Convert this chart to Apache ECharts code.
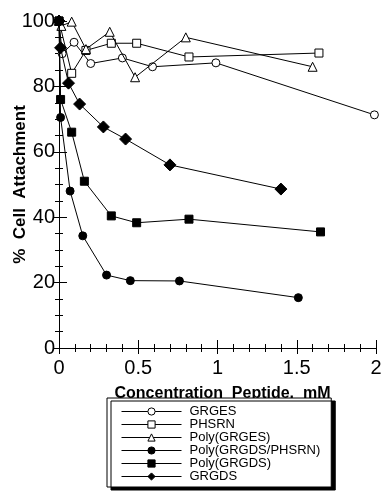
<!DOCTYPE html>
<html>
<head>
<meta charset="utf-8">
<script src="https://cdn.jsdelivr.net/npm/echarts@6/dist/echarts.min.js"></script>
<style>
html,body{margin:0;padding:0;background:#fff;}
#chart{width:383px;height:491px;}
</style>
</head>
<body>
<div id="chart"></div>
<script>
// Data (x: concentration mM, y: % cell attachment)
const seriesNames = ["GRGES", "PHSRN", "Poly(GRGES)", "Poly(GRGDS/PHSRN)", "Poly(GRGDS)", "GRGDS"];
const grges = [[0, 100], [0.02, 90], [0.095, 93.5], [0.2, 87], [0.4, 88.7], [0.59, 86], [0.99, 87.2], [1.99, 71.3]];
const phsrn = [[0, 100], [0.08, 84], [0.17, 91], [0.33, 93.2], [0.49, 93.2], [0.82, 89], [1.64, 90.2]];
const polyGrges = [[0, 100], [0.015, 98.5], [0.08, 99.8], [0.17, 91.4], [0.32, 96.7], [0.48, 82.8], [0.8, 95], [1.6, 86]];
const polyGrgdsPhsrn = [[0, 100], [0.01, 70.5], [0.07, 48], [0.15, 34.3], [0.3, 22.3], [0.45, 20.6], [0.76, 20.5], [1.51, 15.4]];
const polyGrgds = [[0, 100], [0.01, 76], [0.08, 66], [0.16, 51], [0.33, 40.4], [0.49, 38.3], [0.82, 39.4], [1.65, 35.5]];
const grgds = [[0, 100], [0.01, 91.8], [0.06, 81], [0.13, 74.6], [0.28, 67.6], [0.42, 63.9], [0.70, 56], [1.40, 48.6]];
const xTicks = [0, 0.5, 1, 1.5, 2];
const yTicks = [0, 20, 40, 60, 80, 100];

const seriesData = [grges, phsrn, polyGrges, polyGrgdsPhsrn, polyGrgds, grgds];
const symbols = ['circle', 'rect', 'triangle', 'circle', 'rect', 'diamond'];
const symbolSizes = [8, 8, 9, 8, 8, 12];
const filled = [false, false, false, true, true, true];

const chart = echarts.init(document.getElementById('chart'), null, {renderer: 'canvas'});
const fontMain = '"Liberation Sans", Arial, Helvetica, sans-serif';

const axisCommon = {
  min: 0,
  axisLine: {show: true, lineStyle: {color: '#000', width: 1}},
  axisTick: {show: true, inside: true, length: 8, lineStyle: {color: '#000', width: 1}},
  minorTick: {show: true, length: 4, lineStyle: {color: '#000', width: 1}},
  splitLine: {show: false}
};

const option = {
  backgroundColor: '#fff',
  animation: false,
  grid: {left: 59, right: 7, top: 21, bottom: 143, containLabel: false, outerBoundsMode: 'none'},
  xAxis: [
    Object.assign({}, axisCommon, {
      type: 'value', max: 2, interval: 0.5, position: 'bottom',
      minorTick: Object.assign({}, axisCommon.minorTick, {splitNumber: 5}),
      axisLabel: {color: '#000', fontFamily: fontMain, fontSize: 20, margin: 10,
        formatter: v => xTicks.includes(v) ? String(v) : ''},
      name: 'Concentration  Peptide,  mM',
      nameLocation: 'middle', nameGap: 38, nameMoveOverlap: false,
      nameTextStyle: {color: '#000', fontFamily: fontMain, fontWeight: 'bold', fontSize: 16, padding: [0, 0, 0, 10]}
    }),
    Object.assign({}, axisCommon, {
      type: 'value', max: 2, interval: 0.5, position: 'top',
      axisTick: Object.assign({}, axisCommon.axisTick, {length: 6}),
      minorTick: Object.assign({}, axisCommon.minorTick, {splitNumber: 5}),
      axisLabel: {show: false}
    })
  ],
  yAxis: [
    Object.assign({}, axisCommon, {
      type: 'value', max: 100, interval: 20, position: 'left',
      minorTick: Object.assign({}, axisCommon.minorTick, {splitNumber: 4}),
      axisLabel: {color: '#000', fontFamily: fontMain, fontSize: 20, margin: 4,
        formatter: v => yTicks.includes(v) ? String(v) : ''},
      name: '%  Cell  Attachment',
      nameLocation: 'middle', nameGap: 30, nameMoveOverlap: false,
      nameTextStyle: {color: '#000', fontFamily: fontMain, fontWeight: 'bold', fontSize: 17}
    }),
    Object.assign({}, axisCommon, {
      type: 'value', max: 100, interval: 20, position: 'right',
      axisTick: Object.assign({}, axisCommon.axisTick, {length: 5}),
      minorTick: Object.assign({}, axisCommon.minorTick, {splitNumber: 4}),
      axisLabel: {show: false}
    })
  ],
  legend: {
    orient: 'horizontal',
    left: 107, top: 398, width: 209,
    padding: [7, 11, 4, 14],
    itemGap: 0,
    itemWidth: 60,
    itemHeight: 9,
    backgroundColor: '#fff',
    borderColor: '#000',
    borderWidth: 1,
    borderRadius: 0,
    shadowColor: '#000',
    shadowBlur: 0,
    shadowOffsetX: 4,
    shadowOffsetY: 3,
    itemStyle: {borderWidth: 1},
    lineStyle: {width: 1},
    data: seriesNames,
    textStyle: {color: '#000', fontFamily: fontMain, fontSize: 13, lineHeight: 11.5, padding: [0, 0, 0, 3]}
  },
  series: seriesNames.map((name, i) => ({
    name: name,
    type: 'line',
    data: seriesData[i],
    symbol: symbols[i],
    symbolSize: symbolSizes[i],
    showAllSymbol: true,
    lineStyle: {color: '#000', width: 1},
    itemStyle: {color: filled[i] ? '#000' : '#fff', borderColor: '#000', borderWidth: 1},
    z: 2 + i
  }))
};
chart.setOption(option);
</script>
</body>
</html>
